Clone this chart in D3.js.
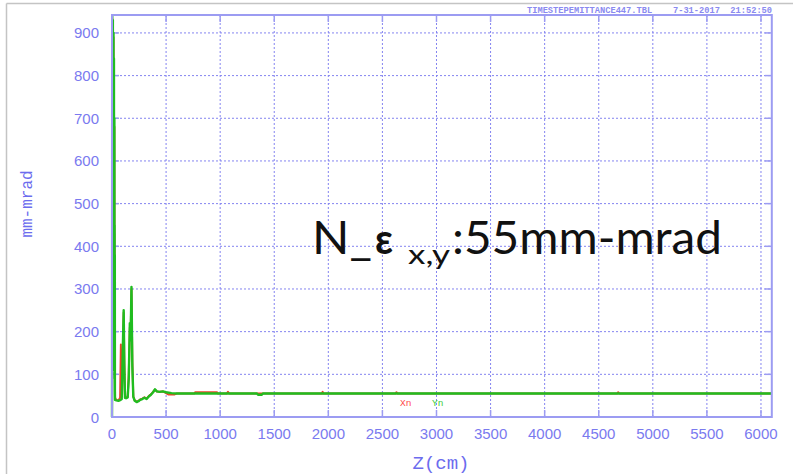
<!DOCTYPE html>
<html>
<head>
<meta charset="utf-8">
<script src="https://cdn.jsdelivr.net/npm/d3@7"></script>
<style>
  body { margin: 0; background: #fff; }
  svg { display: block; }
</style>
</head>
<body>
<svg id="chart" width="793" height="474"></svg>
<script>
// z position (cm) and normalised emittance (mm-mrad)
let xnZ = [0, 1, 2, 3, 4, 5, 6, 7, 8, 9, 10, 11, 12, 13, 14, 15, 16, 17, 18, 19, 20, 21, 22, 23, 24, 25, 26, 27, 28,
  40, 60, 75, 82, 90, 100, 108, 114, 120, 130, 145, 155, 165, 172, 180, 188, 197, 210, 228, 245, 260, 280, 300, 320, 340, 360, 380, 397, 415, 440, 470,
  500, 520, 580, 600, 760, 770, 970, 980, 1060, 1072, 1085, 1940, 1947, 1955, 2620, 2630, 2640, 4670, 4680, 4690, 6100];
let xnVal = [0, 100, 935, 220, 870, 300, 740, 170, 920, 350, 800, 240, 660, 150, 890, 410, 580, 180, 820, 270, 500, 130, 680, 330, 430, 110, 360, 80, 45,
  40, 39, 45, 170, 60, 140, 245, 130, 50, 45, 47, 100, 210, 190, 300, 130, 48, 39, 36, 38, 41, 43, 46, 43, 49, 53, 59, 64, 60, 59, 60,
  56, 53, 53, 55, 55, 58, 58, 55, 55, 59, 55, 55, 59, 55, 55, 58, 55, 55, 58, 55, 55];

let ynZ = [0, 1, 2, 3, 4, 5, 6, 7, 8, 9, 10, 11, 12, 13, 14, 15, 16, 17, 18, 19, 20, 21, 22, 23, 24, 25, 26, 27, 28,
  40, 60, 80, 90, 100, 108, 114, 120, 130, 145, 155, 165, 172, 180, 188, 197, 210, 228, 245, 260, 280, 300, 320, 340, 360, 380, 397, 415, 440, 470,
  500, 550, 600, 1340, 1350, 1385, 1395, 6100];
let ynVal = [0, 126, 940, 180, 880, 260, 760, 140, 930, 320, 820, 210, 690, 120, 900, 380, 600, 150, 840, 240, 520, 110, 700, 300, 450, 90, 380, 60, 40,
  39, 38, 40, 42, 160, 250, 120, 45, 44, 46, 90, 220, 180, 305, 120, 47, 38, 35, 37, 40, 42, 45, 42, 48, 52, 58, 65, 60, 59, 60,
  58, 56, 55, 55, 52, 52, 55, 55];

let xTicks = [0, 500, 1000, 1500, 2000, 2500, 3000, 3500, 4000, 4500, 5000, 5500, 6000];
let yTicks = [0, 100, 200, 300, 400, 500, 600, 700, 800, 900];

let svg = d3.select("#chart");
let blue = "#7a7aef";
let frameBlue = "#9c9cf2";

// scales (plot box is 112..772 by 15..417)
let x = d3.scaleLinear().domain([0, 6100]).range([112, 771.8]);
let y = d3.scaleLinear().domain([0, 942]).range([417, 15]);
let pLeft = x.range()[0], pRight = x.range()[1], pTop = y.range()[1], pBottom = y.range()[0];

// outer grey frame (top and left edges only show)
svg.append("line").attr("x1", 6.5).attr("x2", 793).attr("y1", 3.5).attr("y2", 3.5)
  .attr("stroke", "#c4c4c4").attr("stroke-width", 1.5);
svg.append("line").attr("x1", 6.5).attr("x2", 6.5).attr("y1", 3.5).attr("y2", 474)
  .attr("stroke", "#c4c4c4").attr("stroke-width", 1.5);

// header text
svg.append("text")
  .attr("x", 527).attr("y", 13)
  .attr("font-family", "Liberation Mono, monospace")
  .attr("font-size", 8.7)
  .attr("font-weight", "bold")
  .attr("fill", "#8a8af0")
  .style("white-space", "pre")
  .text("TIMESTEPEMITTANCE447.TBL    7-31-2017  21:52:50");

// grid
svg.append("g").selectAll("line")
  .data(xTicks.filter(d => d > 0))
  .join("line")
  .attr("x1", d => x(d)).attr("x2", d => x(d))
  .attr("y1", pTop).attr("y2", pBottom)
  .attr("stroke", "#8484f0").attr("stroke-width", 1)
  .attr("stroke-dasharray", "2,2");
svg.append("g").selectAll("line")
  .data(yTicks.filter(d => d > 0))
  .join("line")
  .attr("x1", pLeft).attr("x2", pRight)
  .attr("y1", d => y(d)).attr("y2", d => y(d))
  .attr("stroke", "#8484f0").attr("stroke-width", 1)
  .attr("stroke-dasharray", "2,2");

// ticks on all four sides, pointing in
let tickLen = 7;
let tk = svg.append("g").attr("stroke", frameBlue).attr("stroke-width", 1.5);
tk.selectAll(".tb").data(xTicks).join("line").attr("class", "tb")
  .attr("x1", d => x(d)).attr("x2", d => x(d)).attr("y1", pBottom).attr("y2", pBottom - tickLen);
tk.selectAll(".tt").data(xTicks).join("line").attr("class", "tt")
  .attr("x1", d => x(d)).attr("x2", d => x(d)).attr("y1", pTop).attr("y2", pTop + tickLen);
tk.selectAll(".tl").data(yTicks).join("line").attr("class", "tl")
  .attr("x1", pLeft).attr("x2", pLeft + tickLen).attr("y1", d => y(d)).attr("y2", d => y(d));
tk.selectAll(".tr").data(yTicks).join("line").attr("class", "tr")
  .attr("x1", pRight).attr("x2", pRight - tickLen).attr("y1", d => y(d)).attr("y2", d => y(d));

// tick labels
svg.append("g").selectAll("text")
  .data(xTicks)
  .join("text")
  .attr("x", d => x(d)).attr("y", 439)
  .attr("text-anchor", "middle")
  .attr("font-family", "Liberation Sans, sans-serif")
  .attr("font-size", 15)
  .attr("fill", blue)
  .text(d => d);
svg.append("g").selectAll("text")
  .data(yTicks)
  .join("text")
  .attr("x", 99).attr("y", d => y(d) + 5.5)
  .attr("text-anchor", "end")
  .attr("font-family", "Liberation Sans, sans-serif")
  .attr("font-size", 15)
  .attr("fill", blue)
  .text(d => d);

// axis titles
svg.append("text")
  .attr("x", 441).attr("y", 469)
  .attr("text-anchor", "middle")
  .attr("font-family", "Liberation Mono, monospace")
  .attr("font-size", 19)
  .attr("fill", "#6c6cee")
  .text("Z(cm)");
svg.append("text")
  .attr("transform", "translate(32,204) rotate(-90)")
  .attr("text-anchor", "middle")
  .attr("font-family", "Liberation Mono, monospace")
  .attr("font-size", 16)
  .attr("fill", "#6c6cee")
  .text("mm-mrad");

// series
let line = d3.line().x(d => x(d[0])).y(d => y(d[1]));
svg.append("path")
  .attr("d", line(d3.zip(xnZ, xnVal)))
  .attr("fill", "none").attr("stroke", "#e8452a").attr("stroke-width", 2)
  .attr("stroke-linejoin", "round");
svg.append("path")
  .attr("d", line(d3.zip(ynZ, ynVal)))
  .attr("fill", "none").attr("stroke", "#1fbd1f").attr("stroke-width", 2.4)
  .attr("stroke-linejoin", "round");

// plot frame
svg.append("rect")
  .attr("x", pLeft).attr("y", pTop)
  .attr("width", pRight - pLeft).attr("height", pBottom - pTop)
  .attr("fill", "none").attr("stroke", frameBlue).attr("stroke-width", 2);

// legend keys
svg.append("text").attr("x", 400).attr("y", 406)
  .attr("font-family", "Liberation Mono, monospace").attr("font-size", 9.5)
  .attr("fill", "#ff4a4a").text("Xn");
svg.append("text").attr("x", 432).attr("y", 406)
  .attr("font-family", "Liberation Mono, monospace").attr("font-size", 9.5)
  .attr("fill", "#3ccc3c").text("Yn");

// annotation
let note = svg.append("g").attr("fill", "#111").attr("font-family", "Lato, sans-serif");
note.append("text").attr("x", 312).attr("y", 254).attr("font-size", 46)
  .attr("textLength", 60).attr("lengthAdjust", "spacingAndGlyphs").text("N_");
note.append("text").attr("x", 375).attr("y", 254).attr("font-size", 42).attr("font-weight", "bold")
  .attr("textLength", 18).attr("lengthAdjust", "spacingAndGlyphs").text("ε");
note.append("text").attr("x", 408).attr("y", 264).attr("font-size", 26)
  .attr("textLength", 42).attr("lengthAdjust", "spacingAndGlyphs").text("x,y");
note.append("text").attr("x", 452).attr("y", 254).attr("font-size", 46)
  .attr("textLength", 270).attr("lengthAdjust", "spacingAndGlyphs").text(":55mm-mrad");
</script>
</body>
</html>
